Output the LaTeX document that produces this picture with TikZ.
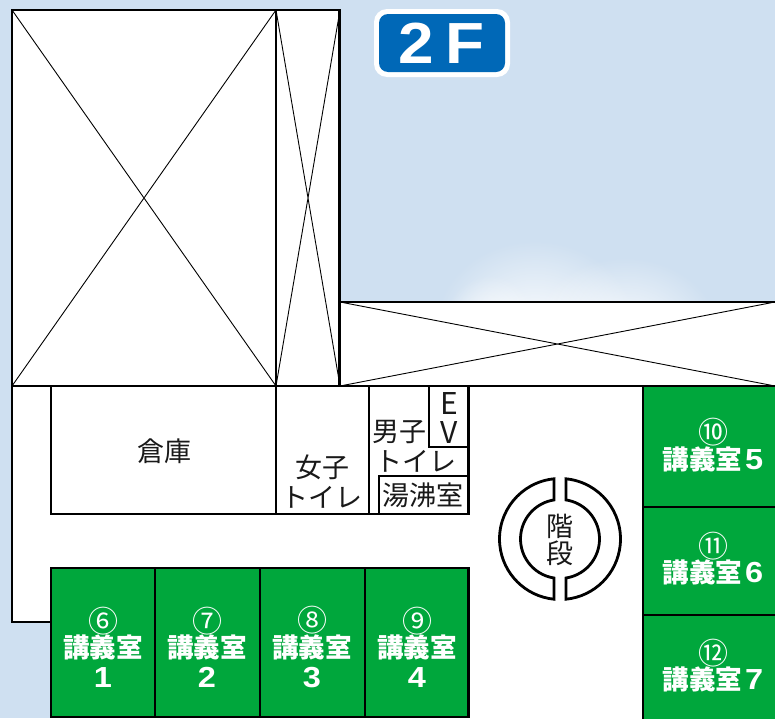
\documentclass[tikz,border=0pt]{standalone}
\usepackage{fontspec}
\setmainfont{Noto Sans CJK JP}
\newfontfamily\latinbold[BoldFont={Liberation Sans Bold}]{Liberation Sans}
\usetikzlibrary{fadings}
\definecolor{skybg}{HTML}{CFE0F1}
\definecolor{roomgreen}{HTML}{00A73C}
\definecolor{signblue}{HTML}{0068B7}
\tikzfading[name=softpuff,inner color=transparent!0,outer color=transparent!100]
\newcommand{\fs}[1]{\fontsize{#1}{#1}\selectfont}
\newcommand{\ldigit}[1]{{\fontsize{29}{29}\selectfont\latinbold\bfseries\scalebox{1.12}[1]{#1}}}
\tikzset{
  x=1pt,y=-1pt,
  wall/.style={draw=black,line width=2.8pt,line join=miter},
  thin cross/.style={draw=black,line width=0.9pt},
  green room/.style={fill=roomgreen,draw=black,line width=2.8pt},
  plain label/.style={inner sep=0pt,font=\fs{27},text=black!90,align=center},
  room label/.style={inner sep=0pt,align=center,text=white},
  cloud puff/.style={white,path fading=softpuff,fill opacity=0.9},
}
\newcommand{\roomlabel}[5]{%
  \node[room label] (#1) at (#2,#3) {{\fs{30}#4}\\[-1pt]{\fs{26.5}\bfseries 講義室}\\[6pt]\ldigit{#5}};}
\newcommand{\sidelabel}[5]{%
  \node[room label] (#1) at (#2,#3) {{\fs{30}#4}\\[-1pt]{\fs{26.5}\bfseries 講義室}\hspace{3pt}\ldigit{#5}};}
\begin{document}
\begin{tikzpicture}
\useasboundingbox (0,0) rectangle (775,718);
\fill[skybg] (0,0) rectangle (775,718);
% cloud
\begin{scope}
  \clip (340,200) rectangle (775,302);
  \fill[cloud puff] (535,325) ellipse [x radius=100pt,y radius=85pt];
  \fill[cloud puff] (625,335) ellipse [x radius=95pt,y radius=78pt];
  \fill[cloud puff] (490,335) ellipse [x radius=50pt,y radius=60pt];
\end{scope}
% sign
\fill[white,rounded corners=13pt] (374,9) rectangle (510,77);
\fill[signblue,rounded corners=9pt] (379,14) rectangle (505,72);
\node[inner sep=0pt,text=white] (sign) at (441.5,43.5) {\fontsize{58}{58}\selectfont\latinbold\bfseries\scalebox{1.1}[1]{2}\hspace{12pt}\scalebox{1.1}[1]{F}};
% main white floor
\fill[white] (12,386) -- (775,386) -- (775,718) -- (51,718) -- (51,622) -- (12,622) -- cycle;
\draw[wall] (51,622) -- (12,622) -- (12,386) -- (775,386);
% upper void areas
\fill[white] (12,10) rectangle (340,386);
\fill[white] (340,302) rectangle (775,386);
\draw[thin cross] (12,10) -- (276,386) (12,386) -- (276,10);
\draw[thin cross] (276,10) -- (340,386) (276,386) -- (340,10);
\draw[thin cross] (340,302) -- (775,386) (340,386) -- (775,302);
\draw[wall] (12,386) -- (12,10) -- (339.5,10) -- (339.5,386);
\draw[wall] (276,10) -- (276,386);
\draw[wall] (340,302) -- (775,302);
\draw[wall] (12,386) -- (775,386);
% service rooms
\draw[wall] (51,386) -- (51,514) -- (468.5,514) -- (468.5,386);
\draw[wall] (276,386) -- (276,514);
\draw[wall] (369,386) -- (369,514);
\draw[wall] (429,386) -- (429,447) -- (468.5,447);
\draw[wall] (468.5,476) -- (379,476) -- (379,514);
% green rooms
\draw[green room] (51,568) rectangle (155,717);
\draw[green room] (155,568) rectangle (260,717);
\draw[green room] (260,568) rectangle (365,717);
\draw[green room] (365,568) rectangle (468.5,717);
\draw[green room] (643,386) rectangle (777,507);
\draw[green room] (643,507) rectangle (777,615);
\draw[green room] (643,615) rectangle (777,720);
% stairs
\draw[wall] (554,478.8) arc[start angle=95.7,end angle=264.3,radius=60.5pt] -- (554,578) arc[start angle=261.26,end angle=98.74,radius=39.5pt] -- cycle;
\draw[wall] (566,478.8) arc[start angle=84.3,end angle=-84.3,radius=60.5pt] -- (566,578) arc[start angle=-81.26,end angle=81.26,radius=39.5pt] -- cycle;
% labels
\node[plain label] (storage) at (164,451) {倉庫};
\node[plain label] (women) at (322,482) {女子\\[3pt]トイレ};
\node[plain label] (men1) at (399,432) {男子};
\node[plain label] (men2) at (416,461) {トイレ};
\node[plain label,font=\fs{30}] (ev1) at (449,403) {E};
\node[plain label,font=\fs{30}] (ev2) at (449,432) {V};
\node[plain label] (boiler) at (423,495) {湯沸室};
\node[plain label] (stair) at (560,539.5) {階\\[0pt]段};
\roomlabel{r1}{103}{647}{⑥}{1}
\roomlabel{r2}{207}{647}{⑦}{2}
\roomlabel{r3}{312}{647}{⑧}{3}
\roomlabel{r4}{417}{647}{⑨}{4}
\sidelabel{r5}{713}{445}{⑩}{5}
\sidelabel{r6}{713}{558.5}{⑪}{6}
\sidelabel{r7}{713}{665.5}{⑫}{7}
\end{tikzpicture}
\end{document}
